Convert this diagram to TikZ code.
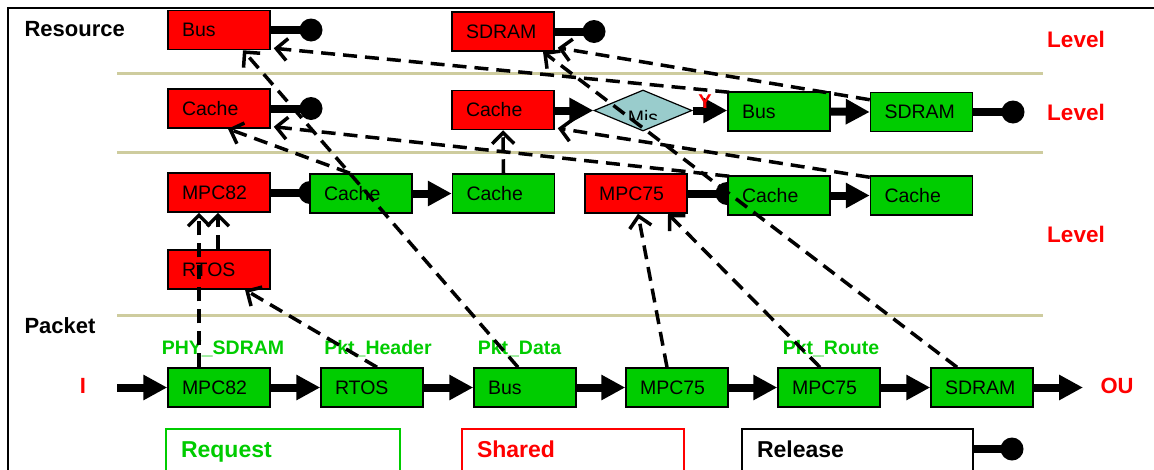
\documentclass[tikz,border=0pt]{standalone}
\usepackage{fontspec}
\setmainfont{Liberation Sans}
\usetikzlibrary{arrows.meta,calc,shapes.geometric}
\definecolor{septan}{RGB}{206,204,158}
\definecolor{boxred}{RGB}{255,0,0}
\definecolor{boxgreen}{RGB}{0,204,0}
\definecolor{misfill}{RGB}{153,204,204}
\definecolor{labgreen}{RGB}{0,204,0}
\begin{document}
\begin{tikzpicture}[x=1pt,y=-1pt,
 box/.style={draw=black,line width=1.5pt,minimum height=39pt,text width=74pt,inner xsep=14pt,inner ysep=0pt,align=left,font=\fontsize{19.5}{21}\selectfont},
 rbox/.style={box,fill=boxred},
 gbox/.style={box,fill=boxgreen},
 dot/.style={circle,fill=black,minimum size=23pt,inner sep=0pt},
 resline/.style={line width=8pt},
 flow/.style={line width=8pt,-{Triangle[length=24pt,width=24pt]}},
 req/.style={line width=3.5pt,dash pattern=on 14pt off 8pt,-{Straight Barb[length=11pt,width=22pt]}},
 lvl/.style={text=boxred,font=\bfseries\fontsize{22.5}{24}\selectfont},
 ttl/.style={font=\bfseries\fontsize{22}{24}\selectfont,anchor=west},
 plab/.style={text=labgreen,font=\bfseries\fontsize{19.5}{21}\selectfont},
 sepline/.style={draw=septan,line width=3pt},
 legbox/.style={line width=2pt,minimum height=46pt,inner xsep=15pt,inner ysep=0pt,align=left,anchor=north west,font=\bfseries\fontsize{23}{25}\selectfont}
]
\useasboundingbox (0,0) rectangle (1154,469);
\clip (0,0) rectangle (1154,469);
% frame
\draw[line width=2pt] (1160,8) -- (8,8) -- (8,480);
% level separators
\draw[sepline] (117,73) -- (1043,73);
\draw[sepline] (117,152) -- (1043,152);
\draw[sepline] (117,315) -- (1043,315);
% titles
\node[ttl] (tres) at (21,29) {Resource};
\node[ttl] (tpkt) at (21,326) {Packet};
\node[lvl] (lv1) at (1076,39) {Level};
\node[lvl] (lv2) at (1076,112) {Level};
\node[lvl] (lv3) at (1076,234) {Level};
% resource level
\node[rbox] (bR) at (219,30) {Bus};
\node[rbox] (sR) at (503,31.5) {SDRAM};
\node[dot] (bRc) at (311,30) {};
\node[dot] (sRc) at (594,31.5) {};
\draw[resline] (bR.east) -- (bRc.center);
\draw[resline] (sR.east) -- (sRc.center);
% cache level
\node[rbox] (cR1) at (219,108.5) {Cache};
\node[dot] (cR1c) at (311,108.5) {};
\draw[resline] (cR1.east) -- (cR1c.center);
\node[rbox] (cR2) at (503,110) {Cache};
\node[diamond,draw=black,line width=1.2pt,fill=misfill,minimum width=98pt,minimum height=41pt,inner sep=0pt] (mis) at (643,110.5) {};
\begin{scope}
\clip (600,95) rectangle (690,119);
\node[anchor=base,font=\fontsize{19.5}{21}\selectfont] (mist) at (643,124) {Mis};
\end{scope}
\node[gbox] (bG) at (779,111.5) {Bus};
\node[gbox] (sG) at (921.5,112) {SDRAM};
\node[dot] (sGc) at (1013,112) {};
\draw[resline] (sG.east) -- (sGc.center);
\draw[flow] (cR2.east |- mis.west) -- (mis.west);
\draw[flow] (mis.east) -- (bG.west |- mis.east);
\node[text=boxred,font=\bfseries\fontsize{20}{22}\selectfont] (ylab) at (705,102) {Y};
\draw[flow] (bG.east) -- (sG.west);
% task level: release dots hidden behind the following Cache boxes
\coordinate (c82) at (310,192.5);
\coordinate (c75) at (727,193.5);
\fill (c82) circle[radius=11.5pt];
\fill (c75) circle[radius=11.5pt];
\node[rbox] (mR82) at (219,192.5) {MPC82};
\node[rbox] (mR75) at (636,193.5) {MPC75};
\draw[resline] (mR82.east) -- (c82);
\draw[resline] (mR75.east) -- (c75);
\node[gbox] (cG1) at (361,193.5) {Cache};
\node[gbox] (cG2) at (503.5,193.5) {Cache};
\node[gbox] (cG3) at (779,195.5) {Cache};
\node[gbox] (cG4) at (921.5,195.5) {Cache};
\draw[flow] (cG1.east) -- (cG2.west);
\draw[flow] (cG3.east) -- (cG4.west);
\node[rbox] (rR) at (219,269.5) {RTOS};
% packet level
\node[gbox] (p1) at (219,387.5) {MPC82};
\node[gbox] (p2) at (372,387.5) {RTOS};
\node[gbox] (p3) at (525,387.5) {Bus};
\node[gbox] (p4) at (677,387.5) {MPC75};
\node[gbox] (p5) at (829,387.5) {MPC75};
\node[gbox] (p6) at (982,387.5) {SDRAM};
\coordinate (pin) at (117,387.5);
\coordinate (pout) at (1083,387.5);
\node[text=boxred,font=\bfseries\fontsize{22}{24}\selectfont] (lin) at (83,386) {I};
\node[text=boxred,font=\bfseries\fontsize{22}{24}\selectfont] (lout) at (1117,386) {OU};
\draw[flow] (pin) -- (p1.west);
\draw[flow] (p1.east) -- (p2.west);
\draw[flow] (p2.east) -- (p3.west);
\draw[flow] (p3.east) -- (p4.west);
\draw[flow] (p4.east) -- (p5.west);
\draw[flow] (p5.east) -- (p6.west);
\draw[flow] (p6.east) -- (pout);
\node[plab] (l1) at (223,349) {PHY\_SDRAM};
\node[plab] (l2) at (378,349) {Pkt\_Header};
\node[plab] (l3) at (519.5,349) {Pkt\_Data};
\node[plab] (l4) at (831,349) {Pkt\_Route};
% legend
\node[legbox,draw=boxgreen,text=labgreen,text width=204pt] (lreq) at (165,428) {Request\strut};
\node[legbox,draw=boxred,text=boxred,text width=192pt] (lsh) at (461,428) {Shared\strut};
\node[legbox,draw=black,text=black,text width=201pt] (lrel) at (741,428) {Release\strut};
\node[dot] (relc) at (1012,449) {};
\draw[resline] (lrel.east |- relc) -- (relc.center);
% request (dashed) arcs
\draw[req] ($(p1.north)+(-20,0)$) -- ($(mR82.south)+(-20,0)$);
\draw[req] ($(rR.north)+(-1,0)$) -- ($(mR82.south)+(-1,0)$);
\draw[req] ($(p2.north)+(5,0)$) -- ($(rR.south)+(26,0)$);
\draw[req] ($(p3.north)+(-7,0)$) -- ($(bR.south)+(24,0)$);
\draw[req] ($(p4.north)+(-10,0)$) -- ($(mR75.south)+(2,0)$);
\draw[req] ($(p5.north)+(-9,0)$) -- ($(mR75.south)+(32,0)$);
\draw[req] ($(p6.north)+(-25,0)$) -- ($(sR.south)+(40,0)$);
\draw[req] ($(sG.north west)+(0,8)$) -- ($(sR.south east)+(3,-4)$);
\draw[req] ($(bG.north west)+(2,1)$) -- ($(bR.south east)+(3,-2)$);
\draw[req] ($(cG3.north west)+(2,1)$) -- ($(cR1.south east)+(3,-2)$);
\draw[req] ($(cG4.north west)+(0,2)$) -- ($(cR2.south east)+(3,-2)$);
\draw[req] ($(cG1.north)+(-11,0)$) -- ($(cR1.south)+(9,0)$);
\draw[req] (cG2.north) -- (cR2.south);
\end{tikzpicture}
\end{document}
